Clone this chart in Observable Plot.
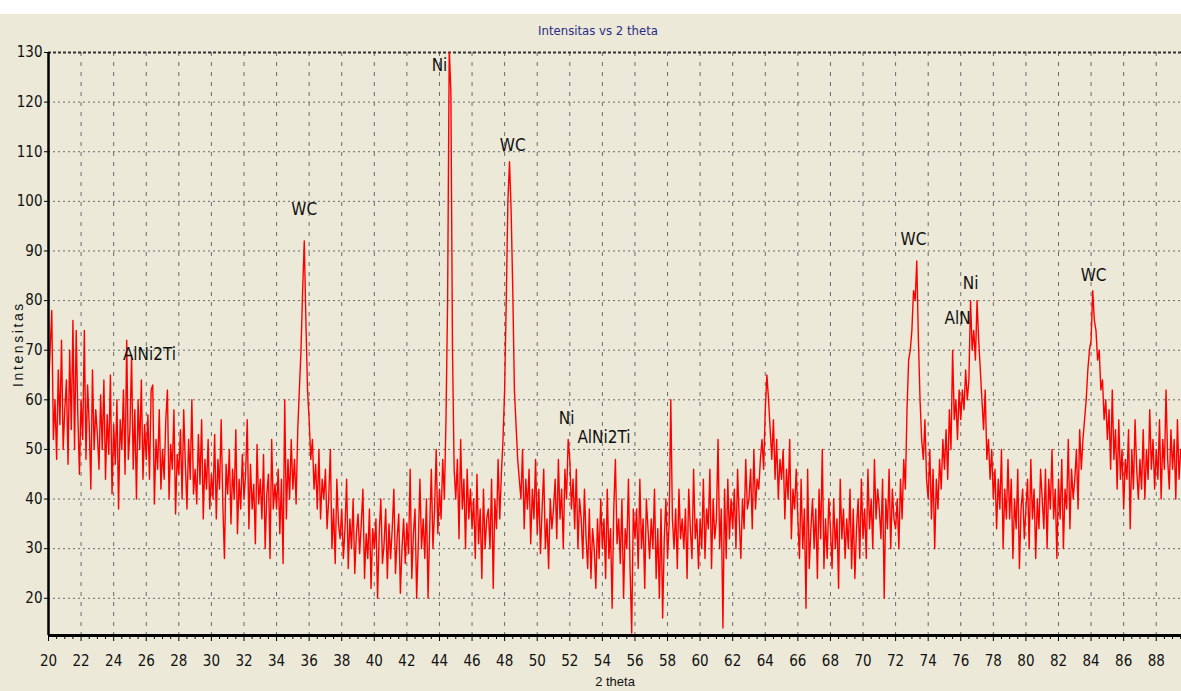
<!DOCTYPE html>
<html>
<head>
<meta charset="utf-8">
<script src="https://cdn.jsdelivr.net/npm/d3@7"></script>
<script src="https://cdn.jsdelivr.net/npm/@observablehq/plot@0.6"></script>
<style>
  html, body { margin: 0; padding: 0; background: #ffffff; }
  body { width: 1181px; height: 691px; overflow: hidden; position: relative; }
  #panel { position: absolute; left: 0; top: 14px; width: 1181px; height: 677px; background: #ECE9D8; }
  #panel svg { display: block; }
</style>
</head>
<body>
<div id="panel"></div>
<script>
// ---- data ----
const angleStart = 20;     // first 2-theta sample
const angleStep = 0.1;     // 2-theta sampling step
const intensity = [
  62,70,78,52,60,48,66,55,72,50, // 20
  58,64,47,70,54,76,50,74,57,45, // 21
  60,52,74,48,63,55,42,66,50,58, // 22
  53,46,61,50,64,44,57,49,65,41, // 23
  55,47,60,38,56,50,62,45,72,48, // 24
  54,69,46,58,40,60,50,64,44,55, // 25
  48,57,44,62,63,39,52,46,58,42, // 26
  50,44,56,62,40,51,46,58,37,49, // 27
  45,54,40,58,47,38,52,44,60,41, // 28
  46,39,53,43,56,36,48,42,52,38, // 29
  45,40,53,36,48,42,56,39,28,47, // 30
  41,50,35,46,40,54,33,44,38,49, // 31
  40,45,56,34,47,38,43,31,51,39, // 32
  44,36,49,30,41,45,28,52,38,43, // 33
  38,46,33,44,27,60,36,48,40,52, // 34
  42,48,39,54,62,70,82,92,76,62, // 35
  56,48,52,42,47,38,50,36,44,40, // 36
  46,34,40,50,30,38,27,44,35,32, // 37
  38,28,34,44,26,36,30,40,25,33, // 38
  37,29,35,42,24,33,28,38,22,34, // 39
  30,36,20,33,40,27,31,38,24,35, // 40
  28,34,42,25,32,37,21,30,36,27, // 41
  35,29,46,24,33,38,20,31,44,30, // 42
  36,28,40,20,34,46,30,38,50,33, // 43
  42,36,48,40,56,80,131,122,70,46, // 44
  40,48,32,52,38,44,30,46,36,42, // 45
  34,40,28,45,31,38,24,42,30,36, // 46
  38,30,44,22,40,34,48,36,45,52, // 47
  62,80,100,108,98,82,62,55,48,44, // 48
  40,50,34,44,38,46,31,42,36,48, // 49
  33,42,29,38,46,30,36,26,40,34, // 50
  38,44,32,48,36,42,30,46,40,52, // 51
  48,38,44,34,46,30,40,36,28,42, // 52
  32,26,38,24,34,30,22,36,28,40, // 53
  30,36,24,42,28,34,18,38,48,31, // 54
  36,27,40,20,34,30,44,26,13,38, // 55
  32,38,26,44,30,36,22,40,34,28, // 56
  36,30,42,24,34,20,38,16,32,40, // 57
  28,35,60,36,30,38,26,42,32,36, // 58
  30,38,24,42,34,28,46,32,36,26, // 59
  36,30,44,28,38,34,46,26,40,32, // 60
  36,52,30,38,14,42,28,44,32,40, // 61
  34,42,30,46,36,28,40,34,48,38, // 62
  40,46,34,50,38,44,42,48,52,46, // 63
  58,65,60,54,48,56,44,52,40,48, // 64
  44,50,36,46,40,52,32,42,38,46, // 65
  36,28,44,30,38,18,46,26,34,40, // 66
  30,38,24,42,32,50,26,36,28,40, // 67
  34,26,40,30,36,22,44,32,38,28, // 68
  36,30,42,26,38,24,34,40,28,44, // 69
  32,38,28,46,34,40,30,48,36,42, // 70
  38,32,44,20,40,34,46,30,42,36, // 71
  34,40,30,44,36,48,42,58,68,70, // 72
  74,82,80,88,72,60,52,48,56,44, // 73
  40,50,36,46,30,44,38,48,42,52, // 74
  46,54,44,58,50,70,56,60,52,62, // 75
  56,62,58,66,60,64,80,70,74,68, // 76
  80,72,66,60,54,62,48,52,44,50, // 77
  40,46,34,44,38,50,30,42,36,48, // 78
  36,44,28,40,34,46,26,38,42,32, // 79
  38,44,30,48,36,42,28,40,34,46, // 80
  40,34,46,30,44,38,50,36,42,28, // 81
  44,36,48,30,42,38,52,34,46,40, // 82
  44,50,38,54,46,52,56,60,66,70, // 83
  72,82,76,74,68,70,62,64,56,60, // 84
  52,58,46,62,48,54,42,56,44,50, // 85
  38,48,44,54,34,50,42,56,46,40, // 86
  48,42,54,40,50,44,58,46,52,42, // 87
  50,44,56,40,52,46,62,48,42,54, // 88
  46,52,40,56,44,50              // 89
];

const xTicks = [20,22,24,26,28,30,32,34,36,38,40,42,44,46,48,50,52,54,56,58,60,62,64,66,68,70,72,74,76,78,80,82,84,86,88];
const yTicks = [20,30,40,50,60,70,80,90,100,110,120,130];

const peakLabels = ["AlNi2Ti","WC","Ni","WC","Ni","AlNi2Ti","WC","AlN","Ni","WC"];
const peakAngles = [26.2,35.7,44.0,48.5,51.8,54.1,73.1,75.8,76.6,84.15];
const peakHeights = [69.1,98.3,127.4,111.2,56.2,52.3,92.4,76.3,83.5,85.0];

const titleText = "Intensitas vs 2 theta";
const xLabel = "2 theta";
const yLabel = "Intensitas";

// ---- derived tables ----
const pattern = intensity.map((v, i) => ({theta: angleStart + i * angleStep, value: v}));
const minorTicks = xTicks.flatMap(t => [t + 0.5, t + 1, t + 1.5]).filter(t => t < 89.55);
const peaks = peakLabels.map((s, i) => ({label: s, theta: peakAngles[i], value: peakHeights[i]}));

const narrow = "'Liberation Sans Narrow', 'Arial Narrow', 'DejaVu Sans Condensed', sans-serif";

const chart = Plot.plot({
  width: 1181,
  height: 677,
  marginLeft: 48,
  marginRight: 0,
  marginTop: 38,
  marginBottom: 56,
  style: {background: "transparent", fontFamily: narrow, color: "#111"},
  x: {domain: [20, 89.55]},
  y: {domain: [12.5, 130]},
  marks: [
    Plot.gridX(xTicks.filter(t => t > 20), {stroke: "#6a6a6a", strokeOpacity: 1, strokeDasharray: "4,6", strokeWidth: 1}),
    Plot.gridY(yTicks.filter(t => t < 130), {stroke: "#6a6a6a", strokeOpacity: 1, strokeDasharray: "2,3", strokeWidth: 1}),
    Plot.ruleY([130], {stroke: "#333", strokeWidth: 2, strokeDasharray: "3,2"}),
    Plot.line(pattern, {x: "theta", y: "value", stroke: "#ff0000", strokeWidth: 1.4, clip: true}),
    Plot.ruleX([20], {stroke: "#000", strokeWidth: 2.5}),
    Plot.ruleY([12.5], {stroke: "#000", strokeWidth: 3}),
    Plot.axisX(minorTicks, {tickSize: 4, tickFormat: () => "", label: null, stroke: "#000"}),
    Plot.axisX(xTicks, {tickSize: 6, tickPadding: 14, fontSize: 15, fontFamily: narrow, fill: "#111", stroke: "#000", label: null}),
    Plot.axisY(yTicks, {tickSize: 4, tickPadding: 2, fontSize: 15, fontFamily: narrow, fill: "#111", stroke: "#000", label: null}),
    Plot.text(peaks, {x: "theta", y: "value", text: "label", fontSize: 17, fontFamily: narrow, fill: "#111", textAnchor: "middle", lineAnchor: "middle"}),
    Plot.text([yLabel], {frameAnchor: "left", dx: -30, rotate: -90, textAnchor: "middle", fontSize: 14, fontFamily: "'Liberation Sans', Arial, sans-serif", fill: "#111", lineAnchor: "middle", className: "ylab"}),
    Plot.text([xLabel], {frameAnchor: "bottom", dy: 46, textAnchor: "middle", fontSize: 13, fontFamily: "'Liberation Sans', Arial, sans-serif", fill: "#111", lineAnchor: "middle"}),
    Plot.text([titleText], {frameAnchor: "top", dx: -17, dy: -22, textAnchor: "middle", fontSize: 13, fontFamily: narrow, fill: "#2b2b85", lineAnchor: "middle"})
  ]
});
// widen the letter spacing of the vertical axis title, as in the reference
d3.select(chart).selectAll(".ylab text").style("letter-spacing", "2.6px");
document.getElementById("panel").appendChild(chart);
</script>
</body>
</html>
